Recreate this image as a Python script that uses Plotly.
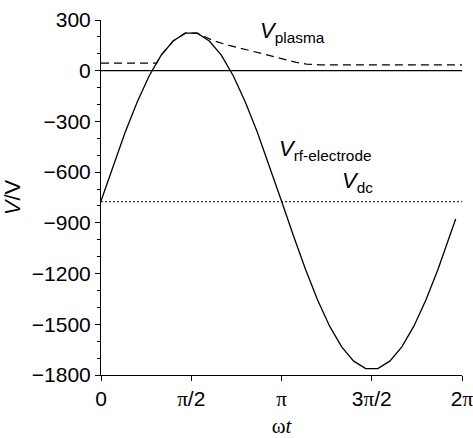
import numpy as np
import plotly.graph_objects as go

# rf-electrode voltage samples (omega*t in units of pi, volts)
rf_t = [0, 1/15, 2/15, 3/15, 4/15, 5/15, 6/15, 7/15, 8/15, 9/15, 10/15, 11/15, 12/15,
        13/15, 14/15, 15/15, 16/15, 17/15, 18/15, 19/15, 20/15, 21/15, 22/15, 23/15,
        24/15, 25/15, 26/15, 27/15, 28/15, 29/15, 1.965]
rf_v = [-771, -564, -366, -186, -31, 92, 176, 222, 222, 176, 92, -31, -186,
        -366, -564, -771, -978, -1176, -1356, -1511, -1634, -1718, -1762, -1762,
        -1718, -1634, -1511, -1356, -1176, -978, -877]

# plasma potential (omega*t in units of pi, volts)
pl_t = [0, 0.308, 1/3, 0.4, 7/15, 8/15, 0.622, 0.714, 0.807, 0.898, 0.991, 1.083, 1.139, 1.212, 2.0]
pl_v = [45, 45, 92, 176, 222, 222, 178, 148, 124, 98, 73, 49, 39, 35, 35]

# dc self-bias
dc_t = [0, 2.0]
dc_v = [-775, -775]

zero_t = [0, 2.0]
zero_v = [0, 0]

x_ticks = [0, 0.5, 1.0, 1.5, 2.0]
serif_pi = "<span style='font-family:\"Liberation Serif\"'>π</span>"
x_ticktext = ["0", serif_pi + "/2", serif_pi, "3" + serif_pi + "/2", "2" + serif_pi]
y_ticks = [-1800, -1500, -1200, -900, -600, -300, 0, 300]

PI = np.pi
fig = go.Figure()
fig.add_trace(go.Scatter(x=np.array(zero_t) * PI, y=zero_v, mode="lines",
                         line=dict(color="black", width=1.3), showlegend=False))
fig.add_trace(go.Scatter(x=np.array(dc_t) * PI, y=dc_v, mode="lines",
                         line=dict(color="black", width=1, dash="2px,2px"), showlegend=False))
fig.add_trace(go.Scatter(x=np.array(pl_t) * PI, y=pl_v, mode="lines",
                         line=dict(color="black", width=1.2, dash="8px,5px"), showlegend=False))
fig.add_trace(go.Scatter(x=np.array(rf_t) * PI, y=rf_v, mode="lines",
                         line=dict(color="black", width=1.3), showlegend=False))

sans = "Liberation Sans, Arial, sans-serif"
fig.add_annotation(x=0.869 * PI, y=228, xref="x", yref="y", xanchor="left", yanchor="middle",
                   text="<i>V</i><sub>plasma</sub>", showarrow=False,
                   font=dict(family=sans, size=22, color="black"))
fig.add_annotation(x=0.974 * PI, y=-470, xref="x", yref="y", xanchor="left", yanchor="middle",
                   text="<i>V</i><sub>rf-electrode</sub>", showarrow=False,
                   font=dict(family=sans, size=22, color="black"))
fig.add_annotation(x=1.323 * PI, y=-660, xref="x", yref="y", xanchor="left", yanchor="middle",
                   text="<i>V</i><sub>dc</sub>", showarrow=False,
                   font=dict(family=sans, size=22, color="black"))

fig.update_layout(
    width=473, height=438,
    margin=dict(l=101, r=11, t=20, b=63),
    paper_bgcolor="white", plot_bgcolor="white",
    font=dict(family=sans, size=21, color="black"),
)
fig.update_xaxes(
    range=[0, 2 * PI], tickvals=np.array(x_ticks) * PI, ticktext=x_ticktext,
    showline=True, linecolor="black", linewidth=1, ticks="outside", ticklen=5,
    tickcolor="black", showgrid=False, zeroline=False, automargin=False,
    ticklabeloverflow="allow",
    title=dict(text="<span style='font-family:\"Liberation Serif\"'>ω<i>t</i></span>",
               font=dict(size=21), standoff=12),
)
fig.update_yaxes(
    range=[-1800, 300], tickvals=y_ticks,
    showline=True, linecolor="black", linewidth=1, ticks="outside", ticklen=5,
    tickcolor="black", showgrid=False, zeroline=False, automargin=False,
    ticklabeloverflow="allow",
    minor=dict(dtick=100, tick0=0, ticks="outside", ticklen=3, tickcolor="black", showgrid=False),
    title=dict(text="<i>V</i>/V", font=dict(size=22), standoff=6),
)
fig.write_html("out.html")
